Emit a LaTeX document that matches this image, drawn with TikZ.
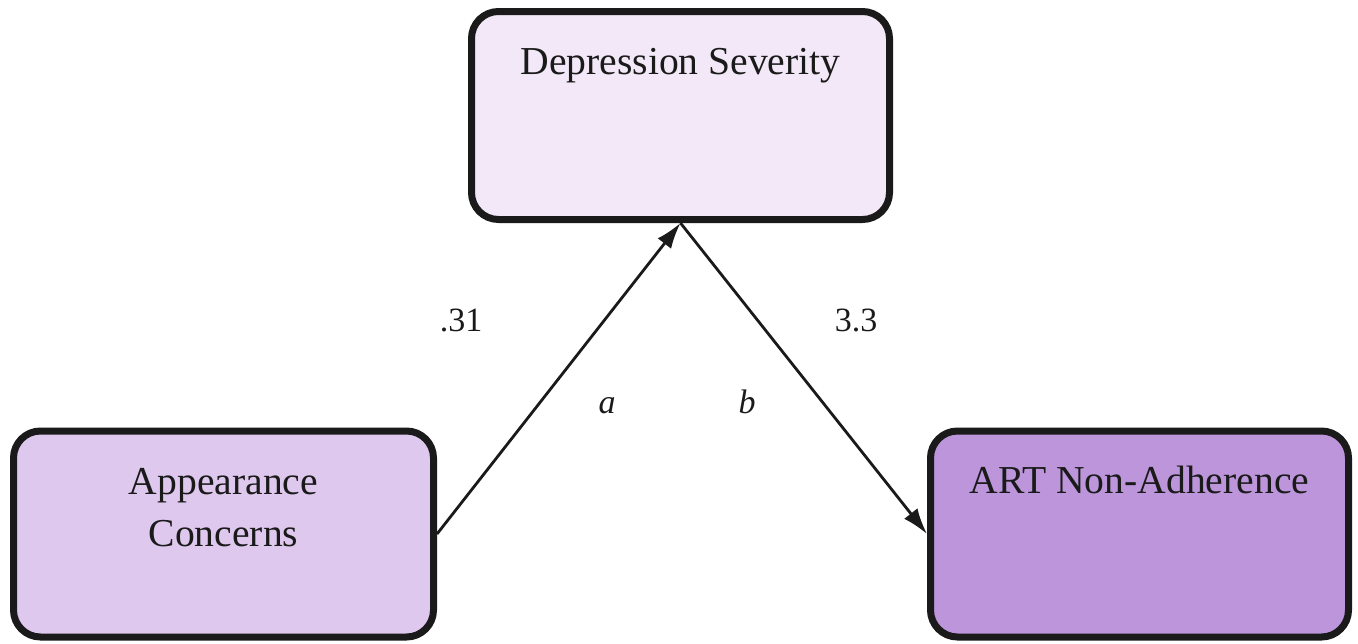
\documentclass[tikz,border=0pt]{standalone}
\usepackage{fontspec}
\setmainfont{Liberation Serif}
\usetikzlibrary{arrows.meta}
\definecolor{topfill}{HTML}{F3E8F8}
\definecolor{leftfill}{HTML}{DFC8EE}
\definecolor{rightfill}{HTML}{BC95DB}
\definecolor{edge}{HTML}{1A1A1A}
\tikzset{
  box/.style={draw=edge, line width=7pt, rounded corners=27pt, inner sep=0pt},
  boxtext/.style={anchor=base, inner sep=0pt, text=edge, font=\fontsize{39.6}{47}\selectfont},
  lbl/.style={anchor=base, inner sep=0pt, text=edge, font=\fontsize{34}{40}\selectfont},
  conn/.style={draw=edge, line width=2.8pt, -{Latex[length=26pt,width=17pt]}}
}
\begin{document}
\begin{tikzpicture}[x=1pt,y=-1pt]
\useasboundingbox (0,0) rectangle (1358,643);
\node[box, fill=topfill, minimum width=418pt, minimum height=208pt] (ds) at (680.5,115.5) {};
\node[box, fill=leftfill, minimum width=420pt, minimum height=206pt] (ac) at (223.5,534) {};
\node[box, fill=rightfill, minimum width=418pt, minimum height=206pt] (art) at (1139.5,534) {};
\node[boxtext] (dst) at (680.5,74) {Depression Severity};
\node[boxtext] (act1) at (223.5,494) {Appearance};
\node[boxtext] (act2) at (223.5,546) {Concerns};
\node[boxtext] (artt) at (1139.5,493) {ART Non-Adherence};
\draw[conn] (ac.east) -- (ds.south);
\draw[conn] (ds.south) -- (art.west);
\node[lbl] (la) at (461,331) {.31};
\node[lbl] (lb) at (856,331) {3.3};
\node[lbl, font=\fontsize{34}{40}\selectfont\itshape] (ia) at (607,413) {a};
\node[lbl, font=\fontsize{34}{40}\selectfont\itshape] (ib) at (747,413) {b};
\end{tikzpicture}
\end{document}
